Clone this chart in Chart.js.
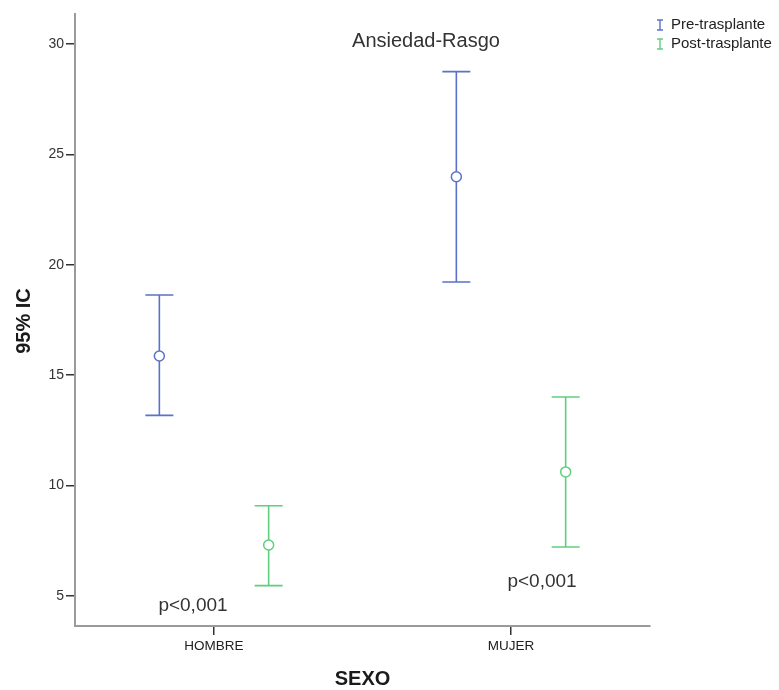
<!DOCTYPE html>
<html lang="es">
<head>
    <meta charset="UTF-8">
    <title>Ansiedad-Rasgo</title>
    <script src="https://cdn.jsdelivr.net/npm/chart.js@4/dist/chart.umd.min.js"></script>
    <style>
        html, body { margin: 0; padding: 0; background: #fff; }
        #wrap { width: 779px; height: 690px; position: relative; }
    </style>
</head>
<body>
    <div id="wrap"><canvas id="icChart"></canvas></div>

    <script>
        const categories = ['HOMBRE', 'MUJER'];
        const groupOffset = 0.184;

        const preMean = [15.87, 23.99];
        const preLow = [13.18, 19.22];
        const preHigh = [18.63, 28.75];

        const postMean = [7.31, 10.62];
        const postLow = [5.47, 7.22];
        const postHigh = [9.09, 14.01];

        const yTicks = [5, 10, 15, 20, 25, 30];
        const pLabels = ['p<0,001', 'p<0,001'];
        const pLabelY = [4.55, 5.64];

        const preColor = '#5a72c8';
        const postColor = '#5fcf7f';
        const font = 'Arial, "Liberation Sans", sans-serif';

        function toPoints(means, side) {
            return means.map((v, i) => ({ x: i + 1 + side * groupOffset, y: v }));
        }

        const seriesBars = [
            { low: preLow, high: preHigh, side: -1, color: preColor },
            { low: postLow, high: postHigh, side: 1, color: postColor }
        ];

        const errorBars = {
            id: 'errorBars',
            afterDatasetsDraw(chart) {
                const ctx = chart.ctx;
                const xs = chart.scales.x, ys = chart.scales.y;
                ctx.save();
                ctx.lineWidth = 1.6;
                seriesBars.forEach(s => {
                    ctx.strokeStyle = s.color;
                    s.low.forEach((lo, i) => {
                        const px = xs.getPixelForValue(i + 1 + s.side * groupOffset);
                        const yl = ys.getPixelForValue(lo);
                        const yh = ys.getPixelForValue(s.high[i]);
                        const yc = ys.getPixelForValue(chart.data.datasets[s.side < 0 ? 0 : 1].data[i].y);
                        ctx.beginPath();
                        ctx.moveTo(px, yh); ctx.lineTo(px, yc - 5);
                        ctx.moveTo(px, yc + 5); ctx.lineTo(px, yl);
                        ctx.moveTo(px - 14, yh); ctx.lineTo(px + 14, yh);
                        ctx.moveTo(px - 14, yl); ctx.lineTo(px + 14, yl);
                        ctx.stroke();
                    });
                });
                ctx.restore();
            }
        };

        const decorations = {
            id: 'decorations',
            afterDraw(chart) {
                const ctx = chart.ctx;
                const xs = chart.scales.x, ys = chart.scales.y;
                const area = chart.chartArea;
                ctx.save();
                ctx.fillStyle = '#333';
                ctx.textAlign = 'center';
                ctx.textBaseline = 'middle';

                // title
                ctx.font = '20px ' + font;
                ctx.fillText('Ansiedad-Rasgo', 426, 41);

                // p values
                ctx.font = '19px ' + font;
                pLabels.forEach((t, i) => {
                    const px = xs.getPixelForValue(i + 1) + (i === 0 ? -21 : 31);
                    ctx.fillText(t, px, ys.getPixelForValue(pLabelY[i]));
                });

                // axis titles
                ctx.fillStyle = '#1a1a1a';
                ctx.font = 'bold 20px ' + font;
                ctx.fillText('SEXO', (area.left + area.right) / 2, 679);
                ctx.translate(24, 321);
                ctx.rotate(-Math.PI / 2);
                ctx.fillText('95% IC', 0, 0);
                ctx.restore();

                // legend
                ctx.save();
                ctx.font = '15px ' + font;
                ctx.textAlign = 'left';
                ctx.textBaseline = 'middle';
                [['Pre-trasplante', preColor, 25], ['Post-trasplante', postColor, 44]].forEach(([t, c, y]) => {
                    ctx.strokeStyle = c;
                    ctx.lineWidth = 1.4;
                    ctx.beginPath();
                    ctx.moveTo(660, y - 5); ctx.lineTo(660, y + 5);
                    ctx.moveTo(657, y - 5); ctx.lineTo(663, y - 5);
                    ctx.moveTo(657, y + 5); ctx.lineTo(663, y + 5);
                    ctx.stroke();
                    ctx.fillStyle = '#222';
                    ctx.fillText(t, 671, y);
                });
                ctx.restore();
            }
        };

        new Chart(document.getElementById('icChart'), {
            type: 'scatter',
            data: {
                datasets: [{
                    label: 'Pre-trasplante',
                    data: toPoints(preMean, -1),
                    borderColor: preColor,
                    backgroundColor: 'rgba(0,0,0,0)',
                    pointRadius: 5,
                    pointBorderWidth: 1.5
                }, {
                    label: 'Post-trasplante',
                    data: toPoints(postMean, 1),
                    borderColor: postColor,
                    backgroundColor: 'rgba(0,0,0,0)',
                    pointRadius: 5,
                    pointBorderWidth: 1.5
                }]
            },
            options: {
                responsive: true,
                maintainAspectRatio: false,
                animation: false,
                layout: { padding: { top: 14, right: 129, left: 0, bottom: 0 } },
                plugins: { legend: { display: false }, title: { display: false }, tooltip: { enabled: false } },
                scales: {
                    x: {
                        type: 'linear',
                        min: 1 - 0.468,
                        max: 2 + 0.468,
                        afterFit: s => { s.height = 64; },
                        afterBuildTicks: s => { s.ticks = categories.map((c, i) => ({ value: i + 1 })); },
                        border: { color: '#9a9a9a', width: 2 },
                        grid: { drawOnChartArea: false, tickLength: 9, color: '#333', lineWidth: 1.5 },
                        ticks: {
                            color: '#222',
                            font: { family: font, size: 13.5 },
                            padding: 3,
                            callback: v => categories[v - 1] || ''
                        }
                    },
                    y: {
                        min: 3.64,
                        max: 31.36,
                        afterFit: s => { s.width = 75; },
                        afterBuildTicks: s => { s.ticks = yTicks.map(v => ({ value: v })); },
                        border: { color: '#9a9a9a', width: 2 },
                        grid: { drawOnChartArea: false, tickLength: 9, color: '#333', lineWidth: 1.5 },
                        ticks: {
                            color: '#333',
                            font: { family: font, size: 14 },
                            padding: 2
                        }
                    }
                }
            },
            plugins: [errorBars, decorations]
        });
    </script>
</body>
</html>
